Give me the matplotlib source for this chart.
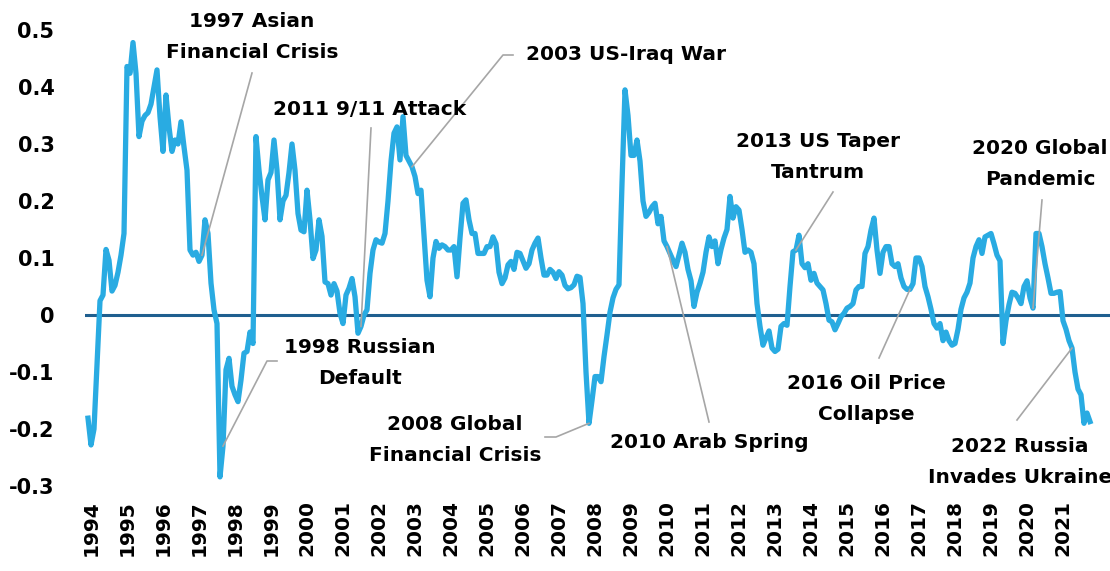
import numpy as np
import matplotlib
matplotlib.use("Agg")
import matplotlib.pyplot as plt

# monthly values, starting Jan 1994
values = [
    -0.181, -0.228, -0.200, -0.087, 0.025, 0.035, 0.115, 0.096, 0.042, 0.052, 0.075, 0.105,
    0.143, 0.436, 0.424, 0.478, 0.424, 0.313, 0.340, 0.350, 0.355, 0.370, 0.400, 0.430,
    0.348, 0.287, 0.386, 0.330, 0.287, 0.307, 0.300, 0.339, 0.295, 0.254, 0.114, 0.105,
    0.110, 0.094, 0.105, 0.167, 0.143, 0.056, 0.009, -0.015, -0.284, -0.230, -0.096, -0.076,
    -0.125, -0.140, -0.152, -0.114, -0.067, -0.064, -0.030, -0.050, 0.313, 0.254, 0.208, 0.167,
    0.237, 0.250, 0.307, 0.254, 0.167, 0.200, 0.210, 0.250, 0.300, 0.254, 0.178, 0.149,
    0.146, 0.219, 0.167, 0.099, 0.114, 0.167, 0.138, 0.058, 0.055, 0.035, 0.055, 0.042,
    0.003, -0.015, 0.035, 0.047, 0.064, 0.032, -0.032, -0.020, 0.000, 0.009, 0.073, 0.114,
    0.132, 0.128, 0.126, 0.143, 0.200, 0.270, 0.319, 0.330, 0.272, 0.348, 0.280, 0.270,
    0.260, 0.243, 0.213, 0.219, 0.140, 0.061, 0.032, 0.100, 0.129, 0.117, 0.123, 0.120,
    0.114, 0.114, 0.120, 0.067, 0.135, 0.196, 0.202, 0.167, 0.143, 0.143, 0.108, 0.108,
    0.108, 0.120, 0.120, 0.137, 0.125, 0.075, 0.055, 0.065, 0.088, 0.094, 0.080, 0.110,
    0.108, 0.095, 0.082, 0.090, 0.114, 0.126, 0.135, 0.100, 0.070, 0.070, 0.080, 0.075,
    0.064, 0.076, 0.070, 0.052, 0.046, 0.048, 0.053, 0.068, 0.066, 0.020, -0.100, -0.190,
    -0.150, -0.108, -0.108, -0.117, -0.073, -0.035, 0.005, 0.030, 0.045, 0.053, 0.230, 0.395,
    0.350, 0.280, 0.280, 0.307, 0.270, 0.200, 0.173, 0.180, 0.190, 0.196, 0.160, 0.173,
    0.130, 0.120, 0.108, 0.096, 0.085, 0.105, 0.126, 0.110, 0.080, 0.060, 0.015, 0.040,
    0.056, 0.075, 0.110, 0.137, 0.120, 0.130, 0.090, 0.115, 0.135, 0.150, 0.208, 0.170,
    0.190, 0.184, 0.150, 0.110, 0.114, 0.110, 0.090, 0.020, -0.020, -0.053, -0.040, -0.028,
    -0.058, -0.064, -0.060, -0.020, -0.015, -0.018, 0.050, 0.111, 0.114, 0.140, 0.090, 0.083,
    0.090, 0.061, 0.073, 0.056, 0.050, 0.044, 0.020, -0.009, -0.012, -0.026, -0.015, -0.003,
    0.003, 0.012, 0.015, 0.020, 0.044, 0.050, 0.050, 0.108, 0.120, 0.149, 0.170, 0.114,
    0.073, 0.110, 0.120, 0.120, 0.090, 0.085, 0.090, 0.065, 0.050, 0.045, 0.045, 0.055,
    0.100, 0.100, 0.085, 0.050, 0.032, 0.010, -0.015, -0.023, -0.015, -0.045, -0.030, -0.045,
    -0.053, -0.050, -0.025, 0.010, 0.030, 0.040, 0.056, 0.100, 0.120, 0.132, 0.108, 0.137,
    0.140, 0.143, 0.125, 0.105, 0.095, -0.050, -0.010, 0.018, 0.040, 0.038, 0.030, 0.020,
    0.050, 0.060, 0.030, 0.012, 0.143, 0.143, 0.120, 0.090, 0.065, 0.038, 0.038, 0.040,
    0.041, -0.010, -0.025, -0.045, -0.058, -0.100, -0.130, -0.140, -0.190, -0.172, -0.187,
]

years = list(range(1994, 2022))
y_ticks = [0.5, 0.4, 0.3, 0.2, 0.1, 0, -0.1, -0.2, -0.3]
y_labels = ["0.5", "0.4", "0.3", "0.2", "0.1", "0", "-0.1", "-0.2", "-0.3"]

# event labels: text, text centre (px), leader path (px), month index the leader points at
events = [
    ("1997 Asian\nFinancial Crisis", (252, 37), [(252, 73)], 38),
    ("2011 9/11 Attack", (370, 110), [(371, 128)], 91),
    ("2003 US-Iraq War", (626, 55), [(513, 55), (503, 55)], 108),
    ("1998 Russian\nDefault", (360, 363), [(277, 361), (267, 361)], 45),
    ("2008 Global\nFinancial Crisis", (455, 440), [(545, 437), (556, 437)], 167),
    ("2010 Arab Spring", (709, 443), [(709, 422)], 193),
    ("2013 US Taper\nTantrum", (818, 157), [(833, 192)], 236),
    ("2016 Oil Price\nCollapse", (866, 399), [(879, 358)], 274),
    ("2020 Global\nPandemic", (1040, 164), [(1042, 200)], 315),
    ("2022 Russia\nInvades Ukraine", (1020, 462), [(1017, 420)], 328),
]

W, H = 1110, 571
FONT = "DejaVu Sans"

fig = plt.figure(figsize=(W / 100, H / 100), dpi=100)
ax = fig.add_axes([85 / W, 85 / H, 1 - 85 / W, (486 - 30) / H])

x = np.arange(len(values))
ax.plot(x, values, color="#29abe2", lw=3.8, solid_joinstyle="round", zorder=3, clip_on=False)
ax.axhline(0, color="#1f5f8f", lw=2.2, zorder=2)

ax.set_xlim(-1, (W - 88) / 3)
ax.set_ylim(-0.3, 0.5)
ax.set_xticks([1 + 12 * k for k in range(len(years))])
ax.set_xticklabels([str(y) for y in years], rotation=90, fontsize=14.5,
                   fontweight="bold", family=FONT)
ax.set_yticks(y_ticks)
ax.set_yticklabels(y_labels, fontsize=15, fontweight="bold", family=FONT)
ax.tick_params(length=0)
ax.tick_params(axis="y", pad=22)
ax.tick_params(axis="x", pad=10)
for s in ax.spines.values():
    s.set_visible(False)


def px2data(px, py):
    return (px - 88) / 3, (315 - py) / 570


for text, (tx, ty), path, idx in events:
    fig.text(tx / W, 1 - ty / H, text, ha="center", va="center", fontsize=14.5,
             fontweight="bold", family=FONT, linespacing=1.75, multialignment="center")
    pts = [px2data(px, py) for px, py in path] + [(idx, values[idx])]
    ax.plot([p[0] for p in pts], [p[1] for p in pts], color="#a6a6a6", lw=1.2,
            zorder=4, clip_on=False)

fig.savefig("out.png", dpi=100)
